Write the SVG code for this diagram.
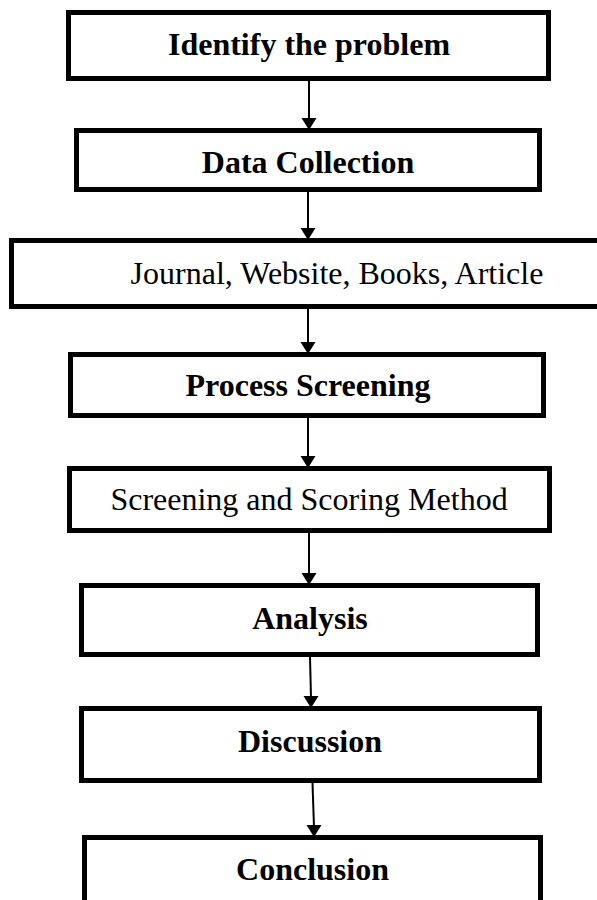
<svg xmlns="http://www.w3.org/2000/svg" width="597" height="900" viewBox="0 0 597 900">
<style>
.box{fill:#fff;stroke:#000;stroke-width:5}
.t{font-family:"Liberation Serif","Times New Roman",serif;font-size:32px;fill:#000;text-anchor:middle}
.b{font-weight:bold}
.c{stroke:#000;stroke-width:2;fill:none}
.h{fill:#000;stroke:none}
</style>
<rect width="597" height="900" fill="#fff"/>
<g id="n1"><rect class="box" x="68.5" y="12.5" width="480" height="66"/><text class="t b" x="309" y="55">Identify the problem</text></g>
<g id="n2"><rect class="box" x="76.5" y="130.5" width="463" height="59"/><text class="t b" x="308" y="173">Data Collection</text></g>
<g id="n3"><rect class="box" x="11.5" y="240.5" width="600" height="66"/><text class="t" x="337" y="284">Journal, Website, Books, Article</text></g>
<g id="n4"><rect class="box" x="70.5" y="354.5" width="473" height="61"/><text class="t b" x="308" y="396">Process Screening</text></g>
<g id="n5"><rect class="box" x="69.5" y="468.5" width="480" height="62"/><text class="t" x="309" y="510">Screening and Scoring Method</text></g>
<g id="n6"><rect class="box" x="81.5" y="585.5" width="456" height="69"/><text class="t b" x="310" y="629">Analysis</text></g>
<g id="n7"><rect class="box" x="81.5" y="708.5" width="458" height="72"/><text class="t b" x="310" y="752">Discussion</text></g>
<g id="n8"><rect class="box" x="84.5" y="837.5" width="456" height="80"/><text class="t b" x="312.5" y="880">Conclusion</text></g>
<g id="connectors">
<line class="c" x1="309" y1="81" x2="309" y2="120"/><polygon class="h" points="301.5,118 316.5,118 309,130"/>
<line class="c" x1="308" y1="192" x2="308" y2="230"/><polygon class="h" points="300.5,228 315.5,228 308,240"/>
<line class="c" x1="308" y1="309" x2="308" y2="344"/><polygon class="h" points="300.5,342 315.5,342 308,354"/>
<line class="c" x1="308" y1="418" x2="308" y2="458"/><polygon class="h" points="300.5,456 315.5,456 308,468"/>
<line class="c" x1="309" y1="533" x2="309" y2="575"/><polygon class="h" points="301.5,573 316.5,573 309,585"/>
<line class="c" x1="310" y1="657" x2="311" y2="698"/><polygon class="h" points="303.5,696 318.5,696 311,708"/>
<line class="c" x1="312.5" y1="783" x2="314" y2="827"/><polygon class="h" points="306.5,825 321.5,825 314,837"/>
</g>
</svg>
